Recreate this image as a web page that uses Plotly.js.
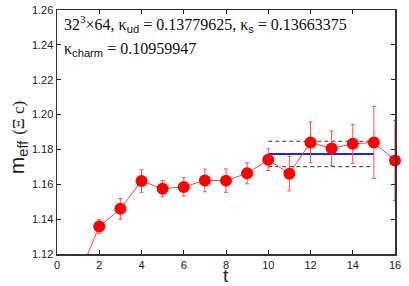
<!DOCTYPE html>
<html>
<head>
<meta charset="utf-8">
<script src="https://cdn.plot.ly/plotly-3.0.1.min.js"></script>
<style>html,body{margin:0;padding:0;background:#fff;}#chart{width:409px;height:286px;}</style>
</head>
<body>
<div id="chart"></div>
<script>
// Data
var tValues = [1, 2, 3, 4, 5, 6, 7, 8, 9, 10, 11, 12, 13, 14, 15, 16];
var mEff = [1.1070, 1.1358, 1.1459, 1.1619, 1.1575, 1.1585, 1.1622, 1.1621, 1.1663, 1.1741, 1.1661, 1.1840, 1.1806, 1.1832, 1.1840, 1.1737];
var mErr = [0.0040, 0.0040, 0.0060, 0.0065, 0.0047, 0.0053, 0.0065, 0.0067, 0.0060, 0.0062, 0.0099, 0.0117, 0.0100, 0.0112, 0.0207, 0.0230];
var fitRange = [10, 15];
var fitValue = 1.1774;
var fitError = 0.0073;
var xTicks = [0, 2, 4, 6, 8, 10, 12, 14, 16];
var yTicks = [1.12, 1.14, 1.16, 1.18, 1.20, 1.22, 1.24, 1.26];
var yRange = [1.12, 1.26];
var xRange = [0, 16];

var visT = [], visM = [], visE = [];
for (var i = 0; i < tValues.length; i++) {
  if (mEff[i] >= yRange[0]) { visT.push(tValues[i]); visM.push(mEff[i]); visE.push(mErr[i]); }
}

var sans = '"Liberation Sans", Arial, sans-serif';
var serif = '"Liberation Serif", "Times New Roman", serif';

var traces = [
  {x: fitRange, y: [fitValue + fitError, fitValue + fitError], mode: 'lines',
   line: {color: '#333', width: 1, dash: '4px,3px'}, hoverinfo: 'skip', showlegend: false},
  {x: fitRange, y: [fitValue - fitError, fitValue - fitError], mode: 'lines',
   line: {color: '#333', width: 1, dash: '4px,3px'}, hoverinfo: 'skip', showlegend: false},
  {x: fitRange, y: [fitValue, fitValue], mode: 'lines',
   line: {color: '#2020ff', width: 2}, hoverinfo: 'skip', showlegend: false},
  {x: tValues, y: mEff, mode: 'lines', line: {color: '#ff4040', width: 1},
   cliponaxis: true, showlegend: false},
  {x: visT, y: visM, mode: 'markers', cliponaxis: false, showlegend: false,
   marker: {color: '#ff0000', size: 12},
   error_y: {type: 'data', array: visE, visible: true, color: '#ff5050', thickness: 1, width: 2}}
];

var layout = {
  width: 409, height: 286,
  margin: {l: 57, r: 14, t: 10, b: 32},
  paper_bgcolor: '#fff', plot_bgcolor: '#fff',
  showlegend: false,
  font: {family: sans, size: 11, color: '#222'},
  xaxis: {
    range: xRange, tickvals: xTicks, ticktext: xTicks.map(String),
    ticks: 'inside', ticklen: 4, tickcolor: '#222', showgrid: false, zeroline: false,
    showline: true, linecolor: '#333', linewidth: 1.5, mirror: 'ticks',
    tickfont: {family: sans, size: 11, color: '#222'}
  },
  yaxis: {
    range: yRange, tickvals: yTicks, ticktext: yTicks.map(function(v){return v.toFixed(2);}),
    ticks: 'inside', ticklen: 4, tickcolor: '#222', showgrid: false, zeroline: false,
    showline: true, linecolor: '#333', linewidth: 1.5, mirror: 'ticks',
    tickfont: {family: sans, size: 11, color: '#222'}
  },
  annotations: [
    {xref: 'paper', yref: 'paper', x: 0.5, y: -0.09, xanchor: 'center', yanchor: 'middle', showarrow: false,
     font: {family: sans, size: 19, color: '#222'}, text: 't'},
    {xref: 'paper', yref: 'paper', x: -0.115, y: 0.475, xanchor: 'center', yanchor: 'middle', showarrow: false,
     textangle: -90, font: {family: sans, size: 21, color: '#222'},
     text: 'm<sub>eff</sub> <span style="font-family:Liberation Serif;font-size:17px">(Ξ c)</span>'},
    {xref: 'paper', yref: 'paper', x: 0.014, y: 0.995, xanchor: 'left', yanchor: 'top', showarrow: false,
     font: {family: serif, size: 16, color: '#111'},
     text: '32<sup>3</sup>×64, κ<sub><span style="font-family:Liberation Sans">ud</span></sub> = 0.13779625, κ<sub><span style="font-family:Liberation Sans">s</span></sub> = 0.13663375'},
    {xref: 'paper', yref: 'paper', x: 0.014, y: 0.885, xanchor: 'left', yanchor: 'top', showarrow: false,
     font: {family: serif, size: 16, color: '#111'},
     text: 'κ<sub><span style="font-family:Liberation Sans">charm</span></sub> = 0.10959947'}
  ]
};

Plotly.newPlot('chart', traces, layout, {displayModeBar: false, staticPlot: true});
</script>
</body>
</html>
